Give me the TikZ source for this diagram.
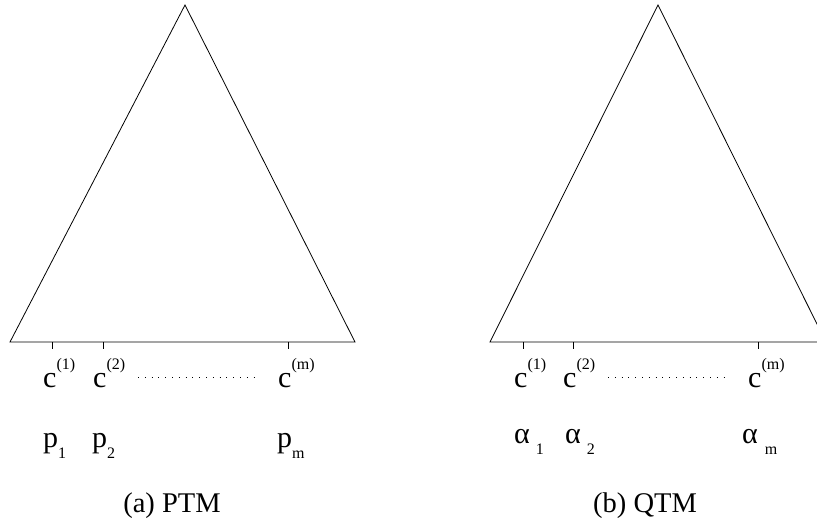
\documentclass[tikz,border=0pt]{standalone}
\usepackage{fontspec}
\setmainfont{Liberation Serif}
\usetikzlibrary{positioning}

\newcommand{\upidx}[1]{\raisebox{18pt}{\fontsize{16}{16}\selectfont #1}}
\newcommand{\lowidx}[1]{\raisebox{-11pt}{\fontsize{16}{16}\selectfont #1}}

\begin{document}
\begin{tikzpicture}[
  x=1pt, y=-1pt,
  edge/.style={line width=0.8pt},
  tick/.style={line width=0.8pt},
  gap/.style={line width=1pt, dash pattern=on 0.9pt off 5.9pt},
  lbl/.style={anchor=base west, inner sep=0pt, font=\fontsize{30}{30}\selectfont},
  caption/.style={anchor=base, inner sep=0pt, font=\fontsize{28.5}{28.5}\selectfont}]
  \useasboundingbox (0,0) rectangle (817,520);
  \clip (0,0) rectangle (817,520);

  % (a) PTM
  \coordinate (Atop) at (185,5);
  \coordinate (Aleft) at (10,342);
  \coordinate (Aright) at (355,342);
  \draw[edge] (Atop) -- (Aright) -- (Aleft) -- cycle;
  \foreach \n/\x in {1/52, 2/103, m/288} {
    \coordinate (At\n) at (\x,342);
    \coordinate (Ab\n) at (\x,349);
    \draw[tick] (At\n) -- (Ab\n);
  }
  \node[lbl] (Ac1) at (43,387) {c\upidx{(1)}};
  \node[lbl] (Ac2) at (93,387) {c\upidx{(2)}};
  \node[lbl] (Acm) at (278,387) {c\upidx{(m)}};
  \coordinate (Adots1) at (138,377);
  \coordinate (Adots2) at (257,377);
  \draw[gap] (Adots1) -- (Adots2);
  \node[lbl] (Ap1) at (43,447) {p\lowidx{1}};
  \node[lbl] (Ap2) at (92,447) {p\lowidx{2}};
  \node[lbl] (Apm) at (277,447) {p\lowidx{m}};
  \node[caption] (Acap) at (172,512) {(a) PTM};

  % (b) QTM
  \coordinate (Btop) at (658,5);
  \coordinate (Bleft) at (490,342);
  \coordinate (Bright) at (826,342);
  \draw[edge] (Btop) -- (Bright) -- (Bleft) -- cycle;
  \foreach \n/\x in {1/523, 2/573, m/758} {
    \coordinate (Bt\n) at (\x,342);
    \coordinate (Bb\n) at (\x,349);
    \draw[tick] (Bt\n) -- (Bb\n);
  }
  \node[lbl] (Bc1) at (514,387) {c\upidx{(1)}};
  \node[lbl] (Bc2) at (563,387) {c\upidx{(2)}};
  \node[lbl] (Bcm) at (748,387) {c\upidx{(m)}};
  \coordinate (Bdots1) at (608,377);
  \coordinate (Bdots2) at (728,377);
  \draw[gap] (Bdots1) -- (Bdots2);
  \node[lbl] (Ba1) at (514,443) {α\hspace{6pt}\lowidx{1}};
  \node[lbl] (Ba2) at (565,443) {α\hspace{6pt}\lowidx{2}};
  \node[lbl] (Bam) at (742,443) {α\hspace{7pt}\lowidx{m}};
  \node[caption] (Bcap) at (645,512) {(b) QTM};
\end{tikzpicture}
\end{document}
